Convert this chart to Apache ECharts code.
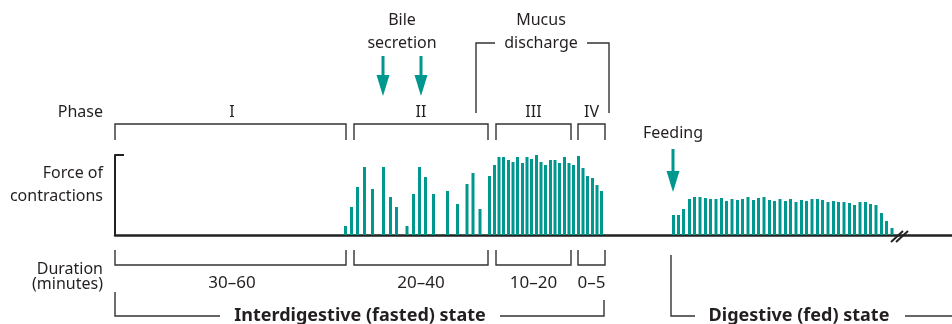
<!DOCTYPE html>
<html>
<head>
<meta charset="utf-8">
<script src="https://cdn.jsdelivr.net/npm/echarts@6/dist/echarts.min.js"></script>
<style>
html, body { margin: 0; padding: 0; background: #fff; }
#chart { width: 952px; height: 324px; }
</style>
</head>
<body>
<div id="chart"></div>
<script>
// time of each contraction (arbitrary units along the trace) and its force
const phase2Time = [230.5, 236.5, 242.5, 249.5, 257.5, 268.5, 275.5, 281.5, 292, 298.5, 304.5, 310.5, 318.5, 332.5, 342.5, 352, 358, 365]
const phase2Force = [9, 28, 48, 68, 46, 68, 38, 28, 9, 41, 68, 58, 41, 44, 31, 51, 62, 26]

const phase34Time = [374.5, 379.5, 384, 388.5, 393.5, 398, 402.5, 407.5, 412, 416.5, 421.5, 426, 430.5, 435.5, 440, 444.5, 449.5, 454, 458.5, 463.5, 468, 472.5, 477.5, 482, 486.5]
const phase34Force = [59, 70, 78, 78, 75, 73, 78, 72, 78, 76, 81, 73, 70, 75, 75, 72, 78, 72, 70, 79, 67, 59, 57, 50, 44]

const fedTime = [558.5, 563.5, 568.5, 574.5, 579.5, 585, 590.5, 595.5, 601, 606.5, 611.5, 617, 622.5, 627.5, 633, 638.5, 643.5, 649, 654.5, 659.5, 665, 670.5, 675.5, 681, 686.5, 691.5, 697, 702.5, 707.5, 713, 718.5, 723.5, 729, 734.5, 739.5, 745, 750.5, 755.5, 761, 766.5, 771.5, 777]
const fedForce = [20, 20, 26, 36, 38, 38, 37, 36, 36, 37, 34, 36, 35, 36, 38, 35, 37, 38, 35, 34, 36, 34, 36, 33, 35, 34, 36, 36, 35, 33, 34, 33, 33, 32, 30, 33, 33, 31, 30, 22, 14, 7]

// phase spans (left, right) on the page
const phaseNames = ['I', 'II', 'III', 'IV']
const durations = ['30–60', '20–40', '10–20', '0–5']
const phaseSpans = [[115, 346], [354, 488], [496, 571], [578, 605]]

const teal = '#00978f'
const ink = '#231f20'
const font = "'Noto Sans', sans-serif"

function pairs(xs, ys) {
  return xs.map((x, i) => [x, ys[i]])
}

function txt(x, y, s, align, size, weight) {
  return {
    type: 'text',
    silent: true,
    style: {
      text: s,
      x: x,
      y: y,
      fill: ink,
      font: (weight || 'normal') + ' ' + (size || 16) + 'px ' + font,
      align: align || 'center',
      textAlign: align || 'center',
      verticalAlign: 'middle',
      textVerticalAlign: 'middle'
    }
  }
}

function poly(points, width, color) {
  return {
    type: 'polyline',
    silent: true,
    shape: { points: points },
    style: { stroke: color || '#333', lineWidth: width || 1.4, fill: null }
  }
}

function arrow(x, y1, y2) {
  const headH = 21
  return [
    {
      type: 'rect',
      silent: true,
      shape: { x: x - 1.5, y: y1, width: 3, height: y2 - y1 - headH + 2 },
      style: { fill: teal }
    },
    {
      type: 'polygon',
      silent: true,
      shape: { points: [[x - 6.5, y2 - headH], [x + 6.5, y2 - headH], [x, y2]] },
      style: { fill: teal }
    }
  ]
}

const graphics = []
graphics.push(txt(402, 20, 'Bile'), txt(402, 43, 'secretion'))
graphics.push(txt(541, 20, 'Mucus'), txt(541, 43, 'discharge'))
graphics.push(poly([[476, 113], [476, 43], [495, 43]]), poly([[587, 43], [609, 43], [609, 113]]))
graphics.push(...arrow(383, 56, 96), ...arrow(421, 56, 96), ...arrow(673, 149, 192))
graphics.push(txt(103, 112, 'Phase', 'right'))
graphics.push(txt(103, 173, 'Force of', 'right'), txt(103, 196, 'contractions', 'right'))
graphics.push(txt(103, 269, 'Duration', 'right'), txt(103, 284, '(minutes)', 'right'))
graphics.push(txt(673, 133, 'Feeding'))
phaseSpans.forEach(([a, b], i) => {
  const mid = i === 0 ? 232 : (a + b) / 2
  graphics.push(poly([[a, 140], [a, 124], [b, 124], [b, 140]]))
  graphics.push(txt(mid, 112, phaseNames[i]))
  graphics.push(poly([[a, 250], [a, 265], [b, 265], [b, 250]]))
  graphics.push(txt(mid, 283, durations[i], 'center', 17))
})
graphics.push(poly([[115, 155], [124, 155]], 2, '#222'))
graphics.push(poly([[115, 292], [115, 316], [220, 316]]), poly([[500, 316], [604, 316], [604, 300]]))
graphics.push(txt(360, 316, 'Interdigestive (fasted) state', 'center', 18, 'bold'))
graphics.push(poly([[671, 255], [671, 316], [695, 316]]), poly([[905, 316], [952, 316]]))
graphics.push(txt(799, 316, 'Digestive (fed) state', 'center', 18, 'bold'))
graphics.push(poly([[891, 242], [903, 231]], 2, '#222'), poly([[896, 242], [908, 231]], 2, '#222'))

const chart = echarts.init(document.getElementById('chart'))
const barStyle = { type: 'bar', barWidth: 3, itemStyle: { color: teal }, silent: true, animation: false }
chart.setOption({
  animation: false,
  grid: { left: 115, right: 0, top: 155, bottom: 89, containLabel: false },
  xAxis: {
    type: 'value', min: 0, max: 837,
    axisLine: { show: true, onZero: false, lineStyle: { color: '#222', width: 2.5 } },
    axisTick: { show: false }, axisLabel: { show: false }, splitLine: { show: false }
  },
  yAxis: {
    type: 'value', min: 0, max: 80,
    axisLine: { show: true, lineStyle: { color: '#222', width: 2 } },
    axisTick: { show: false }, axisLabel: { show: false }, splitLine: { show: false }
  },
  series: [
    Object.assign({ name: 'Phase II', data: pairs(phase2Time, phase2Force) }, barStyle),
    Object.assign({ name: 'Phase III-IV', data: pairs(phase34Time, phase34Force), barGap: '-100%' }, barStyle),
    Object.assign({ name: 'Fed', data: pairs(fedTime, fedForce), barGap: '-100%' }, barStyle)
  ],
  graphic: graphics
})
</script>
</body>
</html>
